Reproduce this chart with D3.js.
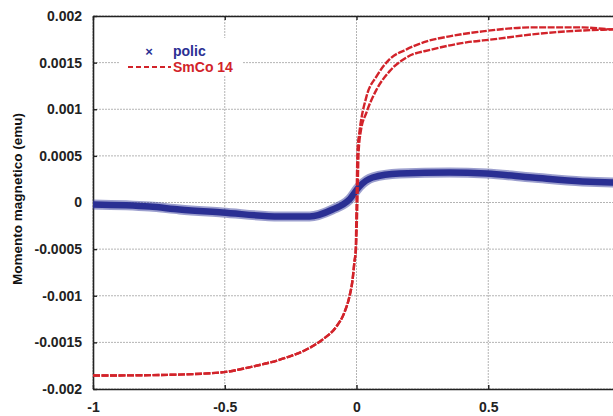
<!DOCTYPE html>
<html><head><meta charset="utf-8">
<script src="https://cdn.jsdelivr.net/npm/d3@7"></script>
<style>
html,body{margin:0;padding:0;background:#fff;overflow:hidden}
text{font-family:"Liberation Sans",Arial,sans-serif;font-weight:bold}
</style></head>
<body><svg id="c" width="613" height="416"></svg>
<script>
// Field H (T) and moment (emu)
const xTicks = [-1, -0.5, 0, 0.5, 1];
const xTickLabels = ["-1", "-0.5", "0", "0.5", ""];
const yTicks = [0.002, 0.0015, 0.001, 0.0005, 0, -0.0005, -0.001, -0.0015, -0.002];
const yTickLabels = ["0.002", "0.0015", "0.001", "0.0005", "0", "-0.0005", "-0.001", "-0.0015", "-0.002"];
const yTitle = "Momento magnetico (emu)";
const seriesNames = ["polic", "SmCo 14"];

// polic sample (band centre)
const policH = [-1.0, -0.785, -0.672, -0.509, -0.292, -0.178, -0.091, -0.027, 0.011, 0.061, 0.163, 0.353, 0.493, 0.668, 0.858, 0.972, 1.0];
const policM = [-0.000021, -0.000043, -0.000075, -0.000107, -0.00015, -0.00015, -0.000075, 0.000032, 0.000172, 0.000268, 0.000311, 0.000322, 0.000311, 0.000268, 0.000225, 0.000215, 0.000214];

// SmCo 14 – outer (descending) branch
const smcoOuterH = [-1.0, -0.75, -0.52, -0.395, -0.266, -0.19, -0.129, -0.076, -0.046, -0.027, -0.015, -0.008, -0.003, 0.0, 0.004, 0.011, 0.038, 0.076, 0.125, 0.190, 0.266, 0.353, 0.478, 0.668, 0.858, 0.972, 1.0];
const smcoOuterM = [-0.001856, -0.00185, -0.001824, -0.00176, -0.001663, -0.001577, -0.00147, -0.00133, -0.00118, -0.00101, -0.00083, -0.00064, -0.0005, -0.00004, 0.000569, 0.000751, 0.001138, 0.001352, 0.001535, 0.001642, 0.001728, 0.001782, 0.001835, 0.001878, 0.001878, 0.001857, 0.00186];
// SmCo 14 – inner (ascending) branch
const smcoInnerH = [-1.0, -0.75, -0.52, -0.395, -0.266, -0.19, -0.129, -0.076, -0.046, -0.027, -0.015, -0.008, -0.002, 0.003, 0.008, 0.016, 0.038, 0.076, 0.125, 0.190, 0.288, 0.417, 0.516, 0.668, 0.797, 0.972, 1.0];
const smcoInnerM = [-0.001856, -0.00185, -0.001824, -0.00176, -0.001663, -0.001577, -0.00147, -0.00133, -0.00118, -0.00101, -0.00083, -0.00064, -0.0005, -0.00004, 0.00054, 0.00076, 0.000966, 0.00121, 0.001406, 0.001556, 0.001642, 0.001717, 0.001749, 0.001803, 0.001835, 0.001857, 0.00186];

const svg = d3.select("#c");
const L = 93, T = 16, R = 620, B = 389;
const x = d3.scaleLinear().domain([-1, 1]).range([L, R]);
const y = d3.scaleLinear().domain([-0.002, 0.002]).range([B, T]);

// grid
const g = svg.append("g");
g.selectAll("line.hy").data(yTicks).join("line")
  .attr("x1", L).attr("x2", R).attr("y1", d => y(d)).attr("y2", d => y(d))
  .attr("stroke", "#b4b4b4").attr("stroke-width", 1).attr("stroke-dasharray", "2,1");
g.selectAll("line.vx").data(xTicks).join("line")
  .attr("x1", d => x(d)).attr("x2", d => x(d)).attr("y1", T).attr("y2", B)
  .attr("stroke", "#b4b4b4").attr("stroke-width", 1).attr("stroke-dasharray", "2,1");

// legend background (covers grid)
svg.append("rect").attr("x", 119).attr("y", 38).attr("width", 124).attr("height", 38).attr("fill", "#fff");

// axes
const ax = svg.append("g").attr("transform", `translate(0,${B})`)
  .call(d3.axisBottom(x).tickValues(xTicks).tickFormat((d, i) => xTickLabels[i]).tickSize(-4).tickSizeOuter(0).tickPadding(13));
const ay = svg.append("g").attr("transform", `translate(${L},0)`)
  .call(d3.axisLeft(y).tickValues(yTicks).tickFormat((d, i) => yTickLabels[i]).tickSize(-4).tickSizeOuter(0).tickPadding(11));
const at = svg.append("g").attr("transform", `translate(0,${T})`)
  .call(d3.axisTop(x).tickValues(xTicks).tickFormat("").tickSize(-4).tickSizeOuter(0));
[ax, ay, at].forEach(a => {
  a.select(".domain").attr("stroke", "#222").attr("stroke-width", 1.6);
  a.selectAll(".tick line").attr("stroke", "#222").attr("stroke-width", 1.4);
  a.selectAll(".tick text").attr("fill", "#222").style("font-size", "14px").style("font-family", "'Liberation Sans',Arial,sans-serif").style("font-weight", "bold");
});

// y title
svg.append("text").attr("transform", "translate(22,199) rotate(-90)")
  .attr("text-anchor", "middle").style("font-size", "12.5px").attr("fill", "#111")
  .attr("textLength", 172).attr("lengthAdjust", "spacingAndGlyphs").text(yTitle);

// series
const line = d3.line().x(d => x(d[0])).y(d => y(d[1])).curve(d3.curveMonotoneX);
const polic = policH.map((h, i) => [h, policM[i]]);
const plot = svg.append("g");
plot.append("path").datum(polic).attr("d", line).attr("fill", "none")
  .attr("stroke", "#3a3f9e").attr("stroke-width", 10).attr("stroke-opacity", 0.5).attr("stroke-linecap", "butt");
plot.append("path").datum(polic).attr("d", line).attr("fill", "none")
  .attr("stroke", "#2a2f93").attr("stroke-width", 6.5).attr("stroke-linecap", "butt");

[[smcoOuterH, smcoOuterM], [smcoInnerH, smcoInnerM]].forEach(([H, M]) => {
  plot.append("path").datum(H.map((h, i) => [h, M[i]])).attr("d", line).attr("fill", "none")
    .attr("stroke", "#d2232a").attr("stroke-width", 2.4).attr("stroke-dasharray", "7,1.5");
});

// legend
const lg = svg.append("g");
lg.append("text").attr("x", 149).attr("y", 51).attr("text-anchor", "middle").attr("dominant-baseline", "central")
  .attr("fill", "#2a2f93").style("font-size", "13px").text("×");
lg.append("text").attr("x", 173).attr("y", 56).attr("fill", "#2a2f93").style("font-size", "14px").text(seriesNames[0]);
lg.append("line").attr("x1", 128).attr("x2", 171).attr("y1", 67).attr("y2", 67)
  .attr("stroke", "#d2232a").attr("stroke-width", 2).attr("stroke-dasharray", "5,3");
lg.append("text").attr("x", 173).attr("y", 72).attr("fill", "#d2232a").style("font-size", "14px").text(seriesNames[1]);
</script></body></html>
